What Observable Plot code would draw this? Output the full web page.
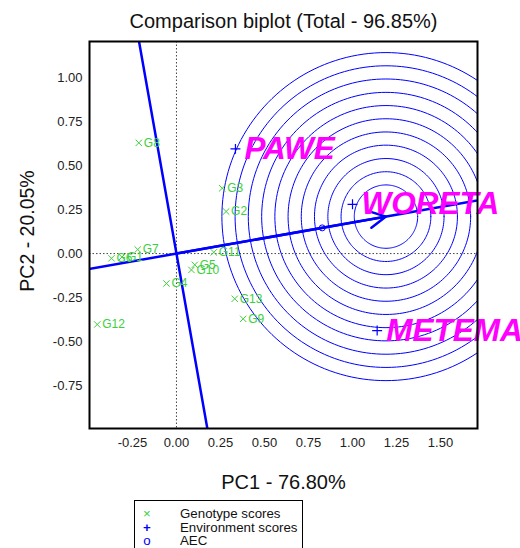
<!DOCTYPE html>
<html><head><meta charset="utf-8">
<script src="https://cdn.jsdelivr.net/npm/d3@7"></script>
<script src="https://cdn.jsdelivr.net/npm/@observablehq/plot@0.6"></script>
<style>
body{margin:0;background:#fff;font-family:"Liberation Sans",Arial,sans-serif}
#wrap{position:relative;width:520px;height:548px;overflow:hidden;background:#fff}
#legend{position:absolute;left:134px;top:500px;width:169px;height:60px;border:1px solid #000;background:#fff;font-size:13.3px;line-height:13.5px;padding-top:6px;box-sizing:border-box;color:#111}
#legend .row{position:relative;height:13.5px}
#legend .sym{position:absolute;left:6px;width:12px;text-align:center}
#legend .lab{position:absolute;left:45px;white-space:nowrap}
</style></head><body>
<div id="wrap"><div id="chart"></div>
<div id="legend">
<div class="row"><span class="sym" style="color:#3ccf3c">×</span><span class="lab">Genotype scores</span></div>
<div class="row"><span class="sym" style="color:#0000ff;font-weight:bold">+</span><span class="lab">Environment scores</span></div>
<div class="row"><span class="sym" style="color:#0000ff">o</span><span class="lab">AEC</span></div>
</div></div>
<script>
// ---- data ----
const titleText = "Comparison biplot (Total - 96.85%)";
const xLabel = "PC1 - 76.80%";
const yLabel = "PC2 - 20.05%";
const xTicks = [-0.25, 0, 0.25, 0.5, 0.75, 1.0, 1.25, 1.5];
const yTicks = [-0.75, -0.5, -0.25, 0, 0.25, 0.5, 0.75, 1.0];

const genotypes = ["G1","G2","G3","G4","G5","G6","G7","G8","G9","G10","G11","G12","G13"];
const genoPC1 = [-0.310, 0.282, 0.260, -0.057, 0.104, -0.369, -0.220, -0.214, 0.379, 0.085, 0.212, -0.450, 0.331];
const genoPC2 = [-0.020, 0.239, 0.371, -0.170, -0.064, -0.027, 0.023, 0.629, -0.371, -0.093, 0.007, -0.403, -0.257];

const environments = ["PAWE","WORETA","METEMA"];
const envPC1 = [0.335, 1.000, 1.140];
const envPC2 = [0.595, 0.280, -0.4375];

const aecPoint = [0.828, 0.146];      // AEC marker (average environment)
const idealPoint = [1.19, 0.21];      // centre of concentric circles / arrow tip
const circleRadii = [0.180, 0.255, 0.330, 0.406, 0.481, 0.556, 0.631, 0.706, 0.782, 0.857, 0.932];

// ---- derived tables ----
const genoData = genotypes.map((g,i)=>({name:g, x:genoPC1[i], y:genoPC2[i]}));
const envData = environments.map((e,i)=>({name:e, x:envPC1[i], y:envPC2[i]}));
const aecData = [{x:aecPoint[0], y:aecPoint[1]}];
const [cx, cy] = idealPoint;
const circlePts = [];
circleRadii.forEach(r=>{
  for(let k=0;k<=180;k++){const a=2*Math.PI*k/180; circlePts.push({r, x:cx+r*Math.cos(a), y:cy+r*Math.sin(a)});}
});
const aecAxis = [-1, 2].map(t=>({x:t*cx, y:t*cy}));
const aecOrd = [-1.2, 1.2].map(t=>({x:-t*cy, y:t*cx}));

const blue = "#0000ff", green = "#3ccf3c", magenta = "#ff00ff";
const fmt = d => d.toFixed(2);

const chart = Plot.plot({
  width:520, height:548,
  marginLeft:89, marginRight:43, marginTop:41, marginBottom:120,
  x:{domain:[-0.494,1.71]},
  y:{domain:[-0.994,1.205]},
  style:{fontFamily:"'Liberation Sans', Arial, sans-serif", fontSize:"13px", background:"white"},
  marks:[
    Plot.ruleX([0], {stroke:"#444", strokeDasharray:"1.5,2", strokeWidth:1}),
    Plot.ruleY([0], {stroke:"#444", strokeDasharray:"1.5,2", strokeWidth:1}),
    Plot.line(circlePts, {x:"x", y:"y", z:"r", stroke:blue, strokeWidth:1, clip:true}),
    Plot.line(aecAxis, {x:"x", y:"y", stroke:blue, strokeWidth:2.5, clip:true}),
    Plot.line(aecOrd, {x:"x", y:"y", stroke:blue, strokeWidth:2.5, clip:true}),
    Plot.arrow([{x1:0,y1:0,x2:cx,y2:cy}], {x1:"x1",y1:"y1",x2:"x2",y2:"y2", stroke:blue, strokeWidth:2.5, headLength:11, headAngle:55}),
    Plot.dot(genoData, {x:"x", y:"y", symbol:"times", stroke:green, r:3, strokeWidth:1}),
    Plot.text(genoData, {x:"x", y:"y", text:"name", dx:5, textAnchor:"start", fill:green, fontSize:12}),
    Plot.dot(envData, {x:"x", y:"y", symbol:"plus", stroke:blue, r:3.3, strokeWidth:1.2}),
    Plot.text(envData, {x:"x", y:"y", text:"name", dx:9, textAnchor:"start", fill:magenta, fontSize:31.5, fontWeight:"bold", fontStyle:"italic"}),
    Plot.dot(aecData, {x:"x", y:"y", symbol:"circle", stroke:blue, fill:"none", r:3, strokeWidth:1}),
    Plot.axisX(xTicks, {tickSize:0, tickPadding:9, tickFormat:fmt, label:null, color:"#222", fontSize:13}),
    Plot.axisY(yTicks, {tickSize:0, tickPadding:7, tickFormat:fmt, label:null, color:"#222", fontSize:13}),
    Plot.frame({stroke:"black", strokeWidth:2}),
    Plot.text([titleText], {text:d=>d, frameAnchor:"top", lineAnchor:"middle", textAnchor:"middle", dy:-20, fontSize:20, fill:"#111"}),
    Plot.text([xLabel], {text:d=>d, frameAnchor:"bottom", lineAnchor:"middle", textAnchor:"middle", dy:54, fontSize:20, fill:"#111"}),
    Plot.text([yLabel], {text:d=>d, frameAnchor:"left", lineAnchor:"middle", textAnchor:"middle", dx:-62, dy:-4, rotate:-90, fontSize:19.5, fill:"#111"})
  ]
});
document.getElementById("chart").appendChild(chart);
</script></body></html>
